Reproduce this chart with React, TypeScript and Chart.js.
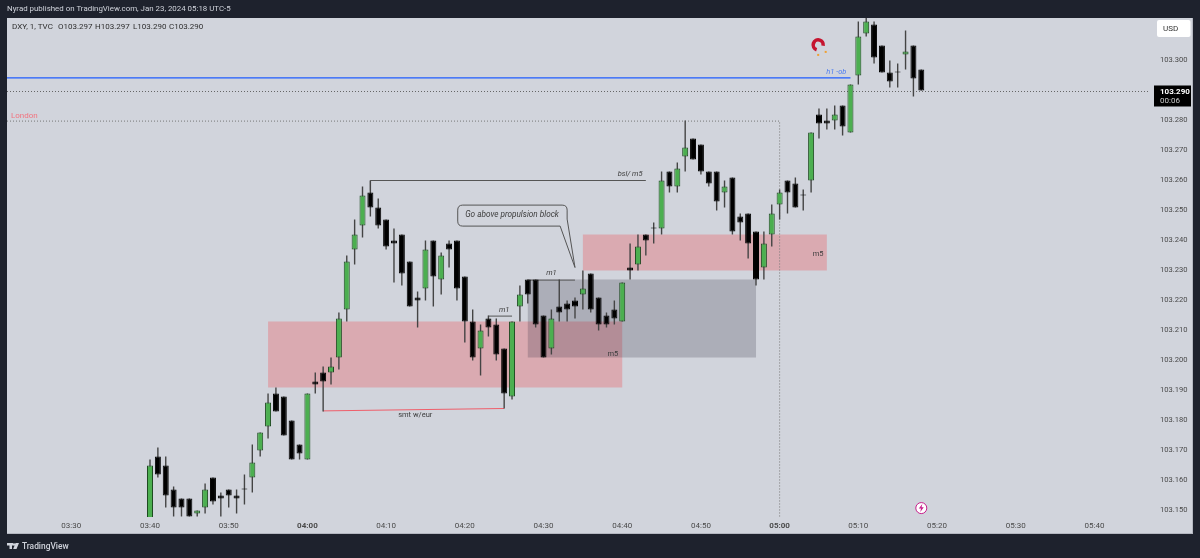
import React, { useEffect, useRef } from "react";
import { Chart, registerables } from "chart.js";

Chart.register(...registerables);

const minuteStart = 220; // 03:40
const opens = [103.147,103.168,103.165,103.157,103.154,103.154,103.149,103.151,103.161,103.155,103.157,103.155,103.157,103.161,103.170,103.178,103.189,103.188,103.180,103.172,103.167,103.193,103.196,103.196,103.201,103.217,103.237,103.245,103.256,103.251,103.247,103.240,103.242,103.233,103.221,103.224,103.240,103.227,103.239,103.240,103.228,103.213,103.204,103.214,103.212,103.204,103.188,103.218,103.227,103.227,103.215,103.204,103.218,103.219,103.220,103.222,103.229,103.221,103.215,103.217,103.213,103.231,103.232,103.242,103.244,103.244,103.263,103.258,103.268,103.274,103.272,103.263,103.263,103.256,103.261,103.248,103.249,103.243,103.231,103.242,103.252,103.260,103.259,103.255,103.260,103.282,103.280,103.280,103.285,103.276,103.295,103.309,103.312,103.305,103.296,103.296,103.302,103.305,103.297];
const highs = [103.167,103.171,103.168,103.158,103.154,103.154,103.150,103.159,103.161,103.156,103.157,103.157,103.162,103.172,103.176,103.189,103.191,103.188,103.180,103.172,103.189,103.196,103.198,103.201,103.216,103.235,103.247,103.258,103.260,103.254,103.247,103.244,103.242,103.233,103.223,103.240,103.240,103.236,103.240,103.240,103.228,103.217,103.212,103.215,103.214,103.204,103.213,103.225,103.227,103.227,103.215,103.217,103.227,103.220,103.221,103.230,103.229,103.221,103.216,103.220,103.226,103.239,103.242,103.242,103.246,103.263,103.263,103.266,103.280,103.274,103.272,103.263,103.263,103.260,103.261,103.249,103.249,103.243,103.243,103.252,103.257,103.260,103.261,103.257,103.276,103.284,103.284,103.285,103.285,103.292,103.313,103.315,103.313,103.305,103.300,103.299,103.310,103.305,103.297];
const lows = [103.145,103.161,103.151,103.148,103.148,103.148,103.148,103.149,103.152,103.148,103.151,103.149,103.152,103.156,103.168,103.174,103.183,103.175,103.167,103.167,103.167,103.189,103.183,103.192,103.197,103.213,103.232,103.241,103.248,103.244,103.237,103.226,103.225,103.218,103.211,103.220,103.218,103.222,103.231,103.220,103.206,103.200,103.195,103.208,103.200,103.184,103.187,103.213,103.219,103.211,103.201,103.202,103.213,103.213,103.214,103.217,103.216,103.210,103.211,103.212,103.213,103.227,103.230,103.235,103.239,103.242,103.256,103.256,103.263,103.267,103.262,103.258,103.250,103.251,103.242,103.240,103.234,103.225,103.227,103.238,103.247,103.249,103.251,103.250,103.256,103.274,103.277,103.277,103.275,103.276,103.292,103.308,103.299,103.296,103.291,103.291,103.297,103.288,103.290];
const closes = [103.165,103.162,103.155,103.151,103.151,103.148,103.150,103.157,103.153,103.154,103.155,103.154,103.157,103.166,103.176,103.186,103.183,103.175,103.167,103.169,103.189,103.192,103.193,103.198,103.214,103.233,103.242,103.255,103.251,103.245,103.238,103.239,103.229,103.218,103.220,103.237,103.228,103.235,103.237,103.224,103.213,103.201,103.210,103.211,103.202,103.189,103.213,103.222,103.222,103.212,103.201,103.214,103.216,103.217,103.218,103.224,103.217,103.212,103.212,103.214,103.226,103.230,103.238,103.240,103.244,103.260,103.258,103.264,103.271,103.267,103.263,103.259,103.253,103.258,103.243,103.246,103.239,103.227,103.239,103.249,103.256,103.256,103.251,103.255,103.276,103.279,103.279,103.282,103.278,103.292,103.308,103.313,103.301,103.296,103.293,103.296,103.303,103.294,103.290];

const xTickStep = 10;
const yTickStep = 0.01;

const zoneStarts = [235, 268, 275];
const zoneEnds = [280, 297, 306];
const zoneTops = [103.213, 103.227, 103.242];
const zoneBottoms = [103.191, 103.201, 103.23];

const noteTexts = ["h1 -ob", "bsl/ m5", "smt w/eur", "m1", "m1", "m5", "m5", "Go above propulsion block"];
const noteMinutes = [307.2, 281, 253.7, 265, 271, 278.8, 304.9, 266];
const notePrices = [103.2962, 103.262, 103.1818, 103.2168, 103.229, 103.202, 103.2355, 103.2485];

const lastPrice = 103.29;
const obLevel = 103.2942;
const londonLevel = 103.2798;
const bslLevel = 103.26;

const GREEN = "#4caf50";
const GREEN_EDGE = "#1d4a20";
const BLACK = "#000000";
const WICK = "#444444";
const FONT = "Roboto, sans-serif";

const minutes = opens.map((_, i) => minuteStart + i);
const wickData = minutes.map((m, i) => ({ x: m, y: [lows[i], highs[i]] }));
const bodyData = minutes.map((m, i) => ({ x: m, y: [opens[i], closes[i]] }));
const fills = opens.map((o, i) => (closes[i] > o ? GREEN : BLACK));
const edges = opens.map((o, i) => (closes[i] > o ? GREEN_EDGE : BLACK));

const fmtTime = (v: number) => {
  const h = Math.floor(v / 60);
  const m = v % 60;
  return `${String(h).padStart(2, "0")}:${String(m).padStart(2, "0")}`;
};

const framePlugin = {
  id: "frame",
  beforeDraw(chart: any) {
    const { ctx, width, height } = chart;
    ctx.save();
    ctx.fillStyle = "#1e222d";
    ctx.fillRect(0, 0, width, height);
    ctx.fillStyle = "#d1d4dc";
    ctx.fillRect(7, 18, 1186, 516);
    ctx.fillStyle = "#b4b7c0";
    ctx.fillRect(7, 533, 1186, 1);
    ctx.fillRect(1192, 18, 1, 516);
    ctx.restore();
  },
};

const drawingsBelow = {
  id: "drawingsBelow",
  beforeDatasetsDraw(chart: any) {
    const { ctx, chartArea: a } = chart;
    const X = (v: number) => chart.scales.x.getPixelForValue(v);
    const Y = (v: number) => chart.scales.y.getPixelForValue(v);
    ctx.save();
    ctx.beginPath();
    ctx.rect(a.left, a.top, a.right - a.left, a.bottom - a.top);
    ctx.clip();

    const zoneColors = ["rgba(239,72,80,0.3)", "rgba(40,42,60,0.22)", "rgba(239,72,80,0.3)"];
    zoneStarts.forEach((s, i) => {
      ctx.fillStyle = zoneColors[i];
      ctx.fillRect(X(s), Y(zoneTops[i]), X(zoneEnds[i]) - X(s), Y(zoneBottoms[i]) - Y(zoneTops[i]));
    });

    // last price dotted
    ctx.strokeStyle = "#666";
    ctx.lineWidth = 1;
    ctx.setLineDash([1, 2]);
    ctx.beginPath();
    ctx.moveTo(a.left, Math.round(Y(lastPrice)) + 0.5);
    ctx.lineTo(a.right, Math.round(Y(lastPrice)) + 0.5);
    ctx.stroke();

    // London
    ctx.strokeStyle = "#777";
    ctx.beginPath();
    ctx.moveTo(a.left, Y(londonLevel));
    ctx.lineTo(X(300), Y(londonLevel));
    ctx.lineTo(X(300), a.bottom);
    ctx.stroke();
    ctx.setLineDash([]);

    // blue h1 level
    ctx.strokeStyle = "#1f5cff";
    ctx.lineWidth = 1.3;
    ctx.beginPath();
    ctx.moveTo(a.left, Y(obLevel));
    ctx.lineTo(X(309), Y(obLevel));
    ctx.stroke();

    // bsl line
    ctx.strokeStyle = "#555";
    ctx.lineWidth = 1;
    ctx.beginPath();
    ctx.moveTo(X(248), Y(bslLevel) + 10);
    ctx.lineTo(X(248), Y(bslLevel));
    ctx.lineTo(X(283), Y(bslLevel));
    ctx.stroke();

    // m1 lines
    ctx.beginPath();
    ctx.moveTo(X(263), Y(103.2148));
    ctx.lineTo(X(266), Y(103.2148));
    ctx.moveTo(X(268), Y(103.2268));
    ctx.lineTo(X(274), Y(103.2268));
    ctx.stroke();

    // smt
    ctx.strokeStyle = "#ef5f6b";
    ctx.beginPath();
    ctx.moveTo(X(242), Y(103.1832));
    ctx.lineTo(X(265), Y(103.184));
    ctx.stroke();

    // callout
    const cl = X(259.1), cr = X(273), ct = Y(103.2518), cb = Y(103.2448);
    ctx.strokeStyle = "#555";
    ctx.fillStyle = "rgba(209,212,220,0.6)";
    ctx.beginPath();
    ctx.moveTo(cl + 5, ct);
    ctx.lineTo(cr - 5, ct);
    ctx.quadraticCurveTo(cr, ct, cr, ct + 5);
    ctx.lineTo(cr, cb - 7);
    ctx.lineTo(X(274), Y(103.231));
    ctx.lineTo(cr - 7, cb);
    ctx.lineTo(cl + 5, cb);
    ctx.quadraticCurveTo(cl, cb, cl, cb - 5);
    ctx.lineTo(cl, ct + 5);
    ctx.quadraticCurveTo(cl, ct, cl + 5, ct);
    ctx.closePath();
    ctx.fill();
    ctx.stroke();
    ctx.restore();
  },
};

const drawingsAbove = {
  id: "drawingsAbove",
  afterDraw(chart: any) {
    const { ctx } = chart;
    const X = (v: number) => chart.scales.x.getPixelForValue(v);
    const Y = (v: number) => chart.scales.y.getPixelForValue(v);
    ctx.save();
    ctx.textBaseline = "middle";
    ctx.textAlign = "center";

    noteTexts.forEach((t, i) => {
      const italic = i === 0 || i === 1 || i === 3 || i === 4 || i === 7;
      const size = i === 7 ? 8.2 : 7.5;
      ctx.font = `${italic ? "italic " : ""}${size}px ${FONT}`;
      ctx.fillStyle = i === 0 ? "#4d7df0" : "#3c3c3c";
      ctx.fillText(t, X(noteMinutes[i]), Y(notePrices[i]));
    });

    // London label
    ctx.textAlign = "left";
    ctx.font = `8px ${FONT}`;
    ctx.fillStyle = "#f2737f";
    ctx.fillText("London", 11, Y(103.2815));

    // header
    ctx.font = `7.9px ${FONT}`;
    ctx.fillStyle = "#d1d4dc";
    ctx.fillText("Nyrad published on TradingView.com, Jan 23, 2024 05:18 UTC-5", 7, 9.5);

    // legend
    ctx.font = `8px ${FONT}`;
    ctx.fillStyle = "#2e2e2e";
    ctx.fillText("DXY, 1, TVC", 12, 27);
    ctx.fillText("O103.297", 58, 27);
    ctx.fillText("H103.297", 95, 27);
    ctx.fillText("L103.290", 133, 27);
    ctx.fillText("C103.290", 169, 27);

    // USD button
    ctx.fillStyle = "#ffffff";
    ctx.beginPath();
    ctx.roundRect(1157, 20, 33.5, 17, 2);
    ctx.fill();
    ctx.fillStyle = "#333";
    ctx.fillText("USD", 1163, 29);

    // price box
    ctx.fillStyle = "#000000";
    ctx.fillRect(1154, 85.5, 37, 21);
    ctx.font = `bold 8px ${FONT}`;
    ctx.fillStyle = "#ffffff";
    ctx.fillText("103.290", 1160, 91.5);
    ctx.font = `8px ${FONT}`;
    ctx.fillStyle = "#cfcfcf";
    ctx.fillText("00:06", 1160, 101);

    // magnet
    const mx = X(304.9), my = Y(103.3052);
    ctx.strokeStyle = "#c5142f";
    ctx.lineWidth = 3.6;
    ctx.beginPath();
    ctx.arc(mx, my, 5, Math.PI * 0.6, Math.PI * 2.05);
    ctx.stroke();
    ctx.fillStyle = "#f0a030";
    ctx.fillRect(mx - 1, my + 9, 2, 2);
    ctx.fillRect(mx + 6.5, my + 6, 2, 2);

    // lightning badge
    const bx = X(318), by = Y(103.1508);
    ctx.fillStyle = "#ffffff";
    ctx.beginPath();
    ctx.arc(bx, by, 5.5, 0, Math.PI * 2);
    ctx.fill();
    ctx.strokeStyle = "#c81e8c";
    ctx.lineWidth = 1;
    ctx.stroke();
    ctx.fillStyle = "#c81e8c";
    ctx.beginPath();
    ctx.moveTo(bx + 1, by - 4);
    ctx.lineTo(bx - 2.5, by + 0.5);
    ctx.lineTo(bx - 0.3, by + 0.5);
    ctx.lineTo(bx - 1, by + 4);
    ctx.lineTo(bx + 2.5, by - 0.8);
    ctx.lineTo(bx + 0.3, by - 0.8);
    ctx.closePath();
    ctx.fill();

    // TradingView logo
    ctx.fillStyle = "#d1d4dc";
    ctx.fillRect(7, 543, 6, 2.5);
    ctx.fillRect(9.5, 543, 2.5, 6);
    ctx.beginPath();
    ctx.arc(14, 544.5, 1.2, 0, Math.PI * 2);
    ctx.fill();
    ctx.beginPath();
    ctx.moveTo(15.5, 543);
    ctx.lineTo(19, 543);
    ctx.lineTo(16.5, 549);
    ctx.lineTo(13.2, 549);
    ctx.closePath();
    ctx.fill();
    ctx.font = `500 8.4px ${FONT}`;
    ctx.fillStyle = "#d1d4dc";
    ctx.fillText("TradingView", 22, 546.5);
    ctx.restore();
  },
};

export default function App() {
  const ref = useRef<HTMLCanvasElement>(null);
  useEffect(() => {
    document.body.style.margin = "0";
    const chart = new Chart(ref.current as HTMLCanvasElement, {
      type: "bar",
      data: {
        datasets: [
          {
            data: bodyData as any,
            backgroundColor: fills,
            borderColor: edges,
            borderWidth: 1,
            borderSkipped: false,
            barThickness: 6,
            minBarLength: 1,
            grouped: false,
            inflateAmount: 0,
            order: 1,
          },
          {
            data: wickData as any,
            backgroundColor: WICK,
            borderWidth: 0,
            barThickness: 1.4,
            grouped: false,
            inflateAmount: 0,
            order: 2,
          },
        ],
      },
      options: {
        responsive: false,
        animation: false,
        layout: { padding: { left: 7, top: 18, right: 7, bottom: 24 } },
        plugins: { legend: { display: false }, tooltip: { enabled: false }, title: { display: false } },
        scales: {
          x: {
            type: "linear",
            offset: false,
            min: 201.83,
            max: 347.06,
            afterFit: (s: any) => { s.height = 17; },
            grid: { display: false, drawTicks: false },
            border: { display: false },
            ticks: {
              stepSize: xTickStep,
              includeBounds: false,
              autoSkip: false,
              maxRotation: 0,
              padding: 4,
              color: "#4a4a4a",
              font: (c: any) => ({
                family: FONT,
                size: 8,
                weight: c.tick && c.tick.value % 60 === 0 ? "bold" : "normal",
              }),
              callback: (v: any) => fmtTime(Number(v)),
            },
          },
          y: {
            position: "right",
            min: 103.14783,
            max: 103.31417,
            afterFit: (s: any) => { s.width = 43; },
            grid: { display: false, drawTicks: false },
            border: { display: false },
            ticks: {
              stepSize: yTickStep,
              includeBounds: false,
              padding: 10,
              color: "#4a4a4a",
              font: { family: FONT, size: 7.6 },
              callback: (v: any) => Number(v).toFixed(3),
            },
          },
        },
      } as any,
      plugins: [framePlugin, drawingsBelow, drawingsAbove],
    });
    return () => chart.destroy();
  }, []);
  return (
    <div style={{ position: "absolute", left: 0, top: 0, width: 1200, height: 558 }}>
      <canvas ref={ref} width={1200} height={558} style={{ display: "block" }} />
    </div>
  );
}
